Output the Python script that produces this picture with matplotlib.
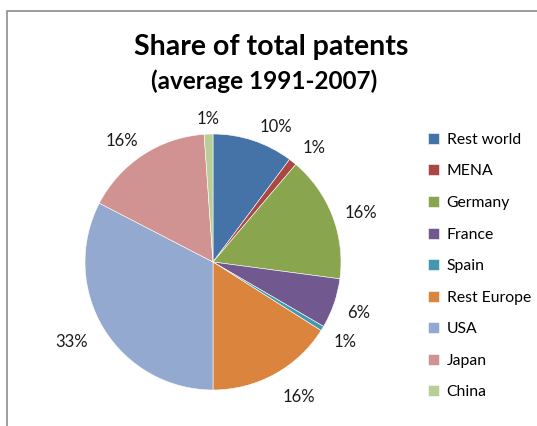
import matplotlib
matplotlib.use("Agg")
import matplotlib.pyplot as plt
from matplotlib.patches import Rectangle

# patent shares by region, clockwise from 12 o'clock
regions = ["Rest world", "MENA", "Germany", "France", "Spain",
           "Rest Europe", "USA", "Japan", "China"]
shares = [10.2, 1.0, 15.9, 6.3, 0.6, 16.0, 32.6, 16.3, 1.1]
colors = ["#4572A7", "#AA4643", "#89A54E", "#71588F", "#4198AF",
          "#DB843D", "#93A9CF", "#D19392", "#B9CD96"]
# small pixel nudges for the percentage labels (x right, y down)
label_nudge = [(15, 11), (5, 6), (5, 6), (0, 1), (1, 0),
               (12, 0), (-10, 0), (-7, 7), (0, 11)]

plt.rcParams['font.family'] = ['Lato', 'DejaVu Sans']

W, H = 537, 426
fig = plt.figure(figsize=(W / 100, H / 100), dpi=100)

# chart frame, runs off the right and bottom
fig.patches.append(Rectangle((7 / W, -0.1), 1.2, 1.1 - 11 / H,
                             transform=fig.transFigure, fill=False,
                             edgecolor="#8c8c8c", linewidth=1.2))

cx, cy, r = 213, 262, 128
half = 160
ax = fig.add_axes([(cx - half) / W, (H - cy - half) / H, 2 * half / W, 2 * half / H])
wedges, texts, autotexts = ax.pie(
    shares, colors=colors, startangle=90, counterclock=False,
    autopct="%.0f%%", pctdistance=1.2, radius=1.0,
    wedgeprops=dict(edgecolor="white", linewidth=0.4),
    textprops=dict(fontsize=12, color="#1a1a1a"))
for t, (dx, dy) in zip(autotexts, label_nudge):
    x, y = t.get_position()
    t.set_position((x + dx / r, y - dy / r))
lim = half / r
ax.set_xlim(-lim, lim)
ax.set_ylim(-lim, lim)
ax.axis("off")

fig.text(271 / W, 1 - 47 / H, "Share of total patents", ha="center", va="center",
         fontsize=20.5, fontweight="bold")
fig.text(264 / W, 1 - 81 / H, "(average 1991-2007)", ha="center", va="center",
         fontsize=17.5, fontweight="bold")

fig.legend(wedges, regions, loc="upper left", bbox_to_anchor=(420 / W, 1 - 125 / H),
           frameon=False, fontsize=11.3, handlelength=0.7, handleheight=0.7,
           handletextpad=0.5, labelspacing=1.12, borderpad=0)

fig.savefig("out.png", dpi=100)
